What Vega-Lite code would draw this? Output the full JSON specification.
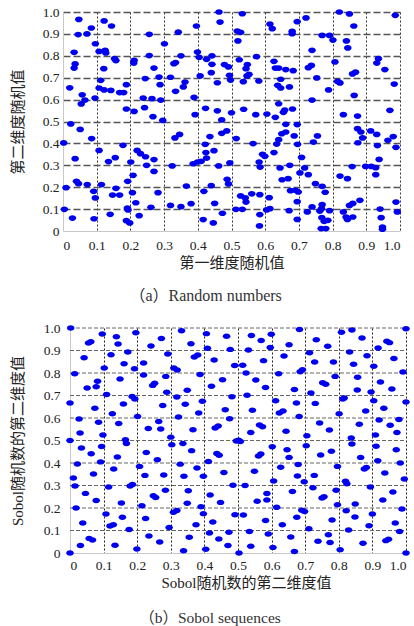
{
  "$schema": "https://vega.github.io/schema/vega-lite/v6.json",
  "padding": {"left": 10, "top": 5, "right": 0, "bottom": 0},
  "background": "white",
  "spacing": 17,
  "config": {
    "view": {"stroke": null},
    "axis": {
      "labelFont": "Liberation Serif",
      "labelFontSize": 13.5,
      "labelColor": "#222",
      "titleFont": "Liberation Serif, Noto Sans CJK SC",
      "titleFontSize": 15,
      "titleFontWeight": "normal",
      "titleColor": "#222",
      "ticks": false,
      "domainColor": "#c8c8c8",
      "domainWidth": 1,
      "labelExpr": "datum.value == 0 ? '0' : format(datum.value, '.1f')"
    },
    "title": {"font": "Liberation Serif, Noto Sans CJK SC", "fontSize": 16, "fontWeight": "normal", "color": "#333", "orient": "bottom", "frame": "bounds", "anchor": "middle"}
  },
  "datasets": {
    "gridvals": [{"v":0.1},{"v":0.2},{"v":0.3},{"v":0.4},{"v":0.5},{"v":0.6},{"v":0.7},{"v":0.8},{"v":0.9},{"v":1.0}],
    "a": [
{"x":0.047,"y":0.966},{"x":0.045,"y":0.897},{"x":0.071,"y":0.900},{"x":0.084,"y":0.927},{"x":0.122,"y":0.959},{"x":0.144,"y":0.936},{"x":0.256,"y":0.898},{"x":0.342,"y":0.908},{"x":0.396,"y":0.936},{"x":0.463,"y":1.0},{"x":0.466,"y":0.954},{"x":0.532,"y":0.992},{"x":0.517,"y":0.913},{"x":0.527,"y":0.907},{"x":0.614,"y":0.945},{"x":0.621,"y":0.924},{"x":0.680,"y":0.912},{"x":0.680,"y":0.901},{"x":0.695,"y":0.956},{"x":0.721,"y":0.973},{"x":0.820,"y":1.0},{"x":0.850,"y":0.991},{"x":0.863,"y":0.936},{"x":0.986,"y":0.985},{"x":0.769,"y":0.893},{"x":0.791,"y":0.893},{"x":0.519,"y":0.868},{"x":0.801,"y":0.872},
{"x":0.096,"y":0.855},{"x":0.033,"y":0.816},{"x":0.036,"y":0.763},{"x":0.033,"y":0.744},{"x":0.107,"y":0.820},{"x":0.125,"y":0.825},{"x":0.127,"y":0.813},{"x":0.153,"y":0.787},{"x":0.157,"y":0.778},{"x":0.121,"y":0.741},{"x":0.211,"y":0.779},{"x":0.210,"y":0.767},{"x":0.256,"y":0.801},{"x":0.301,"y":0.855},{"x":0.350,"y":0.800},{"x":0.329,"y":0.764},{"x":0.334,"y":0.769},{"x":0.399,"y":0.817},{"x":0.404,"y":0.793},{"x":0.426,"y":0.784},{"x":0.442,"y":0.800},{"x":0.442,"y":0.761},{"x":0.479,"y":0.760},{"x":0.491,"y":0.749},{"x":0.523,"y":0.782},{"x":0.547,"y":0.760},{"x":0.543,"y":0.741},{"x":0.574,"y":0.796},{"x":0.626,"y":0.775},{"x":0.630,"y":0.744},{"x":0.640,"y":0.744},{"x":0.661,"y":0.737},{"x":0.683,"y":0.732},{"x":0.739,"y":0.825},{"x":0.728,"y":0.746},{"x":0.737,"y":0.756},{"x":0.841,"y":0.868},{"x":0.845,"y":0.836},{"x":0.807,"y":0.772},{"x":0.936,"y":0.787},{"x":0.931,"y":0.767},{"x":0.955,"y":0.737},
{"x":0.020,"y":0.654},{"x":0.057,"y":0.622},{"x":0.054,"y":0.580},{"x":0.065,"y":0.598},{"x":0.095,"y":0.607},{"x":0.112,"y":0.688},{"x":0.107,"y":0.653},{"x":0.122,"y":0.644},{"x":0.142,"y":0.642},{"x":0.168,"y":0.632},{"x":0.180,"y":0.632},{"x":0.188,"y":0.668},{"x":0.244,"y":0.696},{"x":0.270,"y":0.744},{"x":0.285,"y":0.703},{"x":0.288,"y":0.668},{"x":0.238,"y":0.607},{"x":0.264,"y":0.604},{"x":0.290,"y":0.598},{"x":0.319,"y":0.702},{"x":0.334,"y":0.638},{"x":0.357,"y":0.658},{"x":0.362,"y":0.680},{"x":0.389,"y":0.610},{"x":0.407,"y":0.708},{"x":0.440,"y":0.723},{"x":0.458,"y":0.677},{"x":0.494,"y":0.711},{"x":0.497,"y":0.689},{"x":0.535,"y":0.682},{"x":0.546,"y":0.708},{"x":0.552,"y":0.715},{"x":0.581,"y":0.685},{"x":0.646,"y":0.693},{"x":0.637,"y":0.665},{"x":0.646,"y":0.653},{"x":0.672,"y":0.658},{"x":0.640,"y":0.581},{"x":0.753,"y":0.699},{"x":0.739,"y":0.598},{"x":0.788,"y":0.644},{"x":0.815,"y":0.683},{"x":0.822,"y":0.676},{"x":0.859,"y":0.717},{"x":0.868,"y":0.725},{"x":0.864,"y":0.619},{"x":0.983,"y":0.671},{"x":0.970,"y":0.551},
{"x":0.023,"y":0.489},{"x":0.188,"y":0.557},{"x":0.211,"y":0.546},{"x":0.242,"y":0.563},{"x":0.267,"y":0.522},{"x":0.296,"y":0.505},{"x":0.392,"y":0.531},{"x":0.423,"y":0.560},{"x":0.458,"y":0.549},{"x":0.471,"y":0.507},{"x":0.500,"y":0.540},{"x":0.536,"y":0.556},{"x":0.572,"y":0.531},{"x":0.605,"y":0.534},{"x":0.630,"y":0.519},{"x":0.658,"y":0.552},{"x":0.654,"y":0.542},{"x":0.681,"y":0.557},{"x":0.661,"y":0.487},{"x":0.695,"y":0.486},{"x":0.832,"y":0.531},{"x":0.874,"y":0.525},
{"x":0.002,"y":0.402},{"x":0.051,"y":0.464},{"x":0.085,"y":0.422},{"x":0.107,"y":0.368},{"x":0.178,"y":0.391},{"x":0.332,"y":0.425},{"x":0.346,"y":0.441},{"x":0.436,"y":0.431},{"x":0.422,"y":0.396},{"x":0.448,"y":0.367},{"x":0.471,"y":0.446},{"x":0.486,"y":0.457},{"x":0.514,"y":0.422},{"x":0.564,"y":0.399},{"x":0.649,"y":0.444},{"x":0.661,"y":0.452},{"x":0.640,"y":0.417},{"x":0.634,"y":0.397},{"x":0.686,"y":0.434},{"x":0.696,"y":0.396},{"x":0.743,"y":0.406},{"x":0.755,"y":0.434},{"x":0.874,"y":0.467},{"x":0.884,"y":0.452},{"x":0.875,"y":0.403},{"x":0.889,"y":0.425},{"x":0.913,"y":0.457},{"x":0.931,"y":0.441},{"x":0.933,"y":0.390},{"x":0.964,"y":0.414},{"x":0.980,"y":0.431},{"x":0.988,"y":0.382},
{"x":0.036,"y":0.330},{"x":0.135,"y":0.317},{"x":0.155,"y":0.335},{"x":0.201,"y":0.315},{"x":0.220,"y":0.368},{"x":0.230,"y":0.353},{"x":0.245,"y":0.339},{"x":0.248,"y":0.300},{"x":0.270,"y":0.326},{"x":0.270,"y":0.272},{"x":0.324,"y":0.297},{"x":0.386,"y":0.307},{"x":0.399,"y":0.315},{"x":0.410,"y":0.318},{"x":0.426,"y":0.333},{"x":0.424,"y":0.358},{"x":0.462,"y":0.297},{"x":0.495,"y":0.311},{"x":0.592,"y":0.350},{"x":0.582,"y":0.315},{"x":0.585,"y":0.292},{"x":0.599,"y":0.341},{"x":0.626,"y":0.358},{"x":0.644,"y":0.288},{"x":0.673,"y":0.300},{"x":0.708,"y":0.336},{"x":0.717,"y":0.288},{"x":0.703,"y":0.265},{"x":0.728,"y":0.257},{"x":0.822,"y":0.251},{"x":0.858,"y":0.294},{"x":0.898,"y":0.295},{"x":0.915,"y":0.295},{"x":0.928,"y":0.289},{"x":0.928,"y":0.257},{"x":0.938,"y":0.327},
{"x":0.040,"y":0.227},{"x":0.046,"y":0.216},{"x":0.072,"y":0.212},{"x":0.114,"y":0.212},{"x":0.009,"y":0.198},{"x":0.091,"y":0.181},{"x":0.096,"y":0.151},{"x":0.157,"y":0.195},{"x":0.147,"y":0.164},{"x":0.168,"y":0.164},{"x":0.192,"y":0.227},{"x":0.208,"y":0.254},{"x":0.206,"y":0.175},{"x":0.282,"y":0.175},{"x":0.366,"y":0.205},{"x":0.418,"y":0.181},{"x":0.440,"y":0.207},{"x":0.487,"y":0.236},{"x":0.491,"y":0.215},{"x":0.560,"y":0.170},{"x":0.584,"y":0.166},{"x":0.612,"y":0.152},{"x":0.650,"y":0.234},{"x":0.668,"y":0.239},{"x":0.675,"y":0.184},{"x":0.690,"y":0.186},{"x":0.698,"y":0.178},{"x":0.749,"y":0.216},{"x":0.769,"y":0.204},{"x":0.778,"y":0.177},{"x":0.844,"y":0.239},{"x":0.881,"y":0.140},
{"x":0.004,"y":0.099},{"x":0.028,"y":0.059},{"x":0.092,"y":0.056},{"x":0.140,"y":0.076},{"x":0.191,"y":0.105},{"x":0.193,"y":0.096},{"x":0.188,"y":0.047},{"x":0.198,"y":0.037},{"x":0.216,"y":0.129},{"x":0.226,"y":0.070},{"x":0.261,"y":0.108},{"x":0.319,"y":0.117},{"x":0.350,"y":0.111},{"x":0.380,"y":0.125},{"x":0.416,"y":0.052},{"x":0.446,"y":0.037},{"x":0.450,"y":0.126},{"x":0.473,"y":0.081},{"x":0.513,"y":0.099},{"x":0.532,"y":0.099},{"x":0.527,"y":0.160},{"x":0.541,"y":0.151},{"x":0.543,"y":0.132},{"x":0.584,"y":0.075},{"x":0.583,"y":0.023},{"x":0.604,"y":0.096},{"x":0.614,"y":0.102},{"x":0.671,"y":0.093},{"x":0.695,"y":0.134},{"x":0.695,"y":0.053},{"x":0.725,"y":0.087},{"x":0.739,"y":0.110},{"x":0.762,"y":0.091},{"x":0.769,"y":0.120},{"x":0.767,"y":0.102},{"x":0.768,"y":0.061},{"x":0.775,"y":0.044},{"x":0.766,"y":0.011},{"x":0.780,"y":0.011},{"x":0.786,"y":0.049},{"x":0.791,"y":0.093},{"x":0.832,"y":0.087},{"x":0.840,"y":0.064},{"x":0.844,"y":0.053},{"x":0.850,"y":0.117},{"x":0.860,"y":0.126},{"x":0.860,"y":0.064},{"x":0.941,"y":0.100},{"x":0.944,"y":0.061},{"x":0.948,"y":0.018},{"x":0.948,"y":0.008},{"x":0.988,"y":0.132},{"x":0.992,"y":0.087}
    ],
    "b": [
{"x":0.002,"y":1.0},{"x":0.014,"y":0.797},{"x":0.0,"y":0.667},{"x":0.027,"y":0.596},{"x":0.030,"y":0.533},{"x":0.0,"y":0.5},{"x":0.034,"y":0.467},{"x":0.022,"y":0.396},{"x":0.010,"y":0.333},{"x":0.015,"y":0.298},{"x":0.018,"y":0.2},{"x":0.038,"y":0.133},{"x":0.031,"y":0.033},{"x":0.0,"y":0.0},{"x":0.042,"y":0.868},{"x":0.051,"y":0.733},{"x":0.055,"y":0.933},{"x":0.062,"y":0.939},{"x":0.046,"y":0.265},{"x":0.063,"y":0.441},{"x":0.070,"y":0.351},{"x":0.074,"y":0.643},{"x":0.078,"y":0.233},{"x":0.078,"y":0.739},{"x":0.082,"y":0.763},{"x":0.085,"y":0.581},{"x":0.091,"y":0.405},{"x":0.094,"y":0.473},{"x":0.098,"y":0.524},{"x":0.057,"y":0.065},{"x":0.067,"y":0.058},{"x":0.102,"y":0.822},
{"x":0.096,"y":0.973},{"x":0.109,"y":0.704},{"x":0.107,"y":0.173},{"x":0.115,"y":0.293},{"x":0.122,"y":0.881},{"x":0.126,"y":0.619},{"x":0.130,"y":0.373},{"x":0.119,"y":0.120},{"x":0.129,"y":0.126},{"x":0.134,"y":0.034},{"x":0.138,"y":0.961},{"x":0.143,"y":0.929},{"x":0.141,"y":0.427},{"x":0.145,"y":0.576},{"x":0.149,"y":0.773},{"x":0.153,"y":0.222},{"x":0.156,"y":0.159},{"x":0.159,"y":0.662},{"x":0.161,"y":0.841},{"x":0.165,"y":0.503},{"x":0.168,"y":0.487},{"x":0.172,"y":0.893},{"x":0.176,"y":0.104},{"x":0.179,"y":0.298},{"x":0.186,"y":0.304},{"x":0.185,"y":0.696},{"x":0.192,"y":0.819},{"x":0.193,"y":0.684},{"x":0.196,"y":0.979},{"x":0.201,"y":0.607},{"x":0.199,"y":0.018},{"x":0.207,"y":0.385},
{"x":0.214,"y":0.210},{"x":0.219,"y":0.844},{"x":0.219,"y":0.791},{"x":0.223,"y":0.345},{"x":0.225,"y":0.153},{"x":0.227,"y":0.447},{"x":0.233,"y":0.553},{"x":0.241,"y":0.920},{"x":0.235,"y":0.076},{"x":0.246,"y":0.745},{"x":0.252,"y":0.754},{"x":0.248,"y":0.255},{"x":0.255,"y":0.247},{"x":0.260,"y":0.415},{"x":0.264,"y":0.584},{"x":0.267,"y":0.049},{"x":0.270,"y":0.551},{"x":0.272,"y":0.953},{"x":0.276,"y":0.656},{"x":0.279,"y":0.347},{"x":0.284,"y":0.279},{"x":0.285,"y":0.785},{"x":0.288,"y":0.714},{"x":0.291,"y":0.884},{"x":0.295,"y":0.113},{"x":0.300,"y":0.515},{"x":0.303,"y":0.481},
{"x":0.309,"y":0.822},{"x":0.319,"y":0.813},{"x":0.308,"y":0.181},{"x":0.318,"y":0.189},{"x":0.318,"y":0.693},{"x":0.323,"y":0.604},{"x":0.328,"y":0.395},{"x":0.332,"y":0.988},{"x":0.336,"y":0.487},{"x":0.338,"y":0.010},{"x":0.339,"y":0.341},{"x":0.343,"y":0.661},{"x":0.349,"y":0.723},{"x":0.349,"y":0.221},{"x":0.352,"y":0.277},{"x":0.355,"y":0.070},{"x":0.360,"y":0.930},{"x":0.362,"y":0.455},{"x":0.366,"y":0.548},{"x":0.370,"y":0.871},{"x":0.380,"y":0.880},{"x":0.375,"y":0.126},{"x":0.378,"y":0.378},{"x":0.383,"y":0.622},{"x":0.387,"y":0.793},{"x":0.390,"y":0.206},{"x":0.394,"y":0.674},{"x":0.397,"y":0.341},{"x":0.397,"y":0.175},{"x":0.404,"y":0.017},{"x":0.406,"y":0.975},
{"x":0.409,"y":0.910},{"x":0.412,"y":0.407},{"x":0.415,"y":0.089},{"x":0.417,"y":0.258},{"x":0.421,"y":0.741},{"x":0.425,"y":0.138},{"x":0.429,"y":0.858},{"x":0.432,"y":0.556},{"x":0.441,"y":0.564},{"x":0.437,"y":0.442},{"x":0.444,"y":0.434},{"x":0.443,"y":0.062},{"x":0.448,"y":0.225},{"x":0.454,"y":0.770},{"x":0.458,"y":0.358},{"x":0.462,"y":0.637},{"x":0.466,"y":0.963},{"x":0.470,"y":0.033},{"x":0.473,"y":0.092},{"x":0.475,"y":0.597},{"x":0.477,"y":0.905},{"x":0.482,"y":0.694},{"x":0.485,"y":0.301},{"x":0.490,"y":0.833},{"x":0.495,"y":0.498},{"x":0.502,"y":0.501},{"x":0.507,"y":0.496},{"x":0.491,"y":0.170},{"x":0.503,"y":0.0},
{"x":0.514,"y":0.834},{"x":0.516,"y":0.169},{"x":0.521,"y":0.300},{"x":0.524,"y":0.800},{"x":0.527,"y":0.701},{"x":0.531,"y":0.902},{"x":0.534,"y":0.096},{"x":0.538,"y":0.030},{"x":0.540,"y":0.967},{"x":0.543,"y":0.634},{"x":0.538,"y":0.536},{"x":0.549,"y":0.363},{"x":0.553,"y":0.769},{"x":0.557,"y":0.230},{"x":0.561,"y":0.431},{"x":0.568,"y":0.440},{"x":0.564,"y":0.569},{"x":0.573,"y":0.561},{"x":0.569,"y":0.944},{"x":0.576,"y":0.855},{"x":0.582,"y":0.736},{"x":0.582,"y":0.144},{"x":0.586,"y":0.264},{"x":0.586,"y":0.236},{"x":0.590,"y":0.084},{"x":0.596,"y":0.913},{"x":0.599,"y":0.972},{"x":0.602,"y":0.472},{"x":0.604,"y":0.025},{"x":0.606,"y":0.320},
{"x":0.612,"y":0.677},{"x":0.615,"y":0.203},{"x":0.621,"y":0.797},{"x":0.623,"y":0.622},{"x":0.634,"y":0.631},{"x":0.627,"y":0.381},{"x":0.632,"y":0.126},{"x":0.637,"y":0.876},{"x":0.643,"y":0.541},{"x":0.646,"y":0.459},{"x":0.652,"y":0.425},{"x":0.652,"y":0.926},{"x":0.657,"y":0.071},{"x":0.662,"y":0.273},{"x":0.668,"y":0.727},{"x":0.674,"y":0.667},{"x":0.675,"y":0.159},{"x":0.677,"y":0.342},{"x":0.683,"y":0.993},{"x":0.668,"y":0.007},{"x":0.679,"y":0.393},{"x":0.682,"y":0.607},{"x":0.685,"y":0.806},{"x":0.692,"y":0.815},{"x":0.690,"y":0.190},{"x":0.698,"y":0.184},{"x":0.697,"y":0.317},
{"x":0.705,"y":0.521},{"x":0.703,"y":0.477},{"x":0.713,"y":0.890},{"x":0.711,"y":0.108},{"x":0.717,"y":0.711},{"x":0.723,"y":0.290},{"x":0.727,"y":0.345},{"x":0.730,"y":0.665},{"x":0.728,"y":0.849},{"x":0.733,"y":0.948},{"x":0.738,"y":0.052},{"x":0.743,"y":0.578},{"x":0.746,"y":0.436},{"x":0.750,"y":0.244},{"x":0.756,"y":0.250},{"x":0.752,"y":0.757},{"x":0.761,"y":0.750},{"x":0.767,"y":0.919},{"x":0.769,"y":0.081},{"x":0.772,"y":0.547},{"x":0.774,"y":0.047},{"x":0.778,"y":0.452},{"x":0.780,"y":0.147},{"x":0.784,"y":0.849},{"x":0.789,"y":0.785},{"x":0.792,"y":0.279},{"x":0.796,"y":0.215},{"x":0.796,"y":0.385},{"x":0.801,"y":0.619},{"x":0.804,"y":0.015},
{"x":0.808,"y":0.981},{"x":0.812,"y":0.684},{"x":0.816,"y":0.689},{"x":0.820,"y":0.319},{"x":0.824,"y":0.308},{"x":0.822,"y":0.188},{"x":0.829,"y":0.102},{"x":0.832,"y":0.893},{"x":0.837,"y":0.511},{"x":0.839,"y":0.484},{"x":0.839,"y":0.991},{"x":0.844,"y":0.839},{"x":0.849,"y":0.218},{"x":0.848,"y":0.160},{"x":0.855,"y":0.724},{"x":0.856,"y":0.781},{"x":0.861,"y":0.572},{"x":0.865,"y":0.425},{"x":0.869,"y":0.956},{"x":0.872,"y":0.043},{"x":0.876,"y":0.373},{"x":0.882,"y":0.380},{"x":0.880,"y":0.631},{"x":0.884,"y":0.877},{"x":0.890,"y":0.121},{"x":0.894,"y":0.293},{"x":0.896,"y":0.716},{"x":0.900,"y":0.173},{"x":0.904,"y":0.677},
{"x":0.904,"y":0.830},{"x":0.909,"y":0.524},{"x":0.911,"y":0.474},{"x":0.917,"y":0.911},{"x":0.920,"y":0.591},{"x":0.924,"y":0.760},{"x":0.916,"y":0.410},{"x":0.931,"y":0.236},{"x":0.934,"y":0.643},{"x":0.937,"y":0.356},{"x":0.940,"y":0.055},{"x":0.948,"y":0.061},{"x":0.943,"y":0.941},{"x":0.951,"y":0.935},{"x":0.953,"y":0.568},{"x":0.958,"y":0.729},{"x":0.961,"y":0.271},{"x":0.964,"y":0.864},{"x":0.968,"y":0.133},{"x":0.971,"y":0.459},{"x":0.973,"y":0.536},{"x":0.979,"y":0.593},{"x":0.981,"y":0.096},{"x":0.983,"y":0.400},{"x":0.988,"y":0.196},{"x":0.991,"y":0.804},{"x":0.995,"y":0.329},{"x":1.0,"y":0.671},{"x":1.0,"y":0.997},{"x":1.0,"y":0.0}
    ]
  },
  "vconcat": [
    {
      "width": 337,
      "height": 219,
      "data": {"name": "a"},
      "title": {"text": "（a）Random numbers", "offset": 17},
      "mark": {"type": "point", "filled": true, "clip": false, "opacity": 1, "color": "#0000f0", "size": 58, "shape": "M -1 0 A 1 0.75 0 1 0 1 0 A 1 0.75 0 1 0 -1 0 Z"},
      "encoding": {
        "x": {"field": "x", "type": "quantitative", "scale": {"domain": [0, 1], "nice": false, "zero": false},
          "axis": {"values": [0,0.1,0.2,0.3,0.4,0.5,0.6,0.7,0.8,0.9,1.0], "title": "第一维度随机值", "labelPadding": 7, "titlePadding": 4,
            "grid": true, "gridColor": "#333", "gridWidth": 1, "gridDash": [2, 2],
            "gridOpacity": {"condition": {"test": "datum.value == 0", "value": 0}, "value": 1}}},
        "y": {"field": "y", "type": "quantitative", "scale": {"domain": [0, 1], "nice": false, "zero": false},
          "axis": {"values": [0,0.1,0.2,0.3,0.4,0.5,0.6,0.7,0.8,0.9,1.0], "title": "第二维度随机值", "labelPadding": 4, "titlePadding": 17,
            "grid": true, "gridColor": "#555", "gridWidth": 1.5, "gridDash": [7, 3],
            "gridOpacity": {"condition": {"test": "datum.value == 0", "value": 0}, "value": 1}}}
      }
    },
    {
      "width": 343,
      "height": 225,
      "title": {"text": "（b）Sobol sequences", "offset": 20, "fontSize": 15.5},
      "layer": [
        {
          "data": {"name": "gridvals"},
          "mark": {"type": "rule", "color": "#666", "strokeWidth": 1, "strokeDash": [4, 2]},
          "encoding": {
            "x": {"datum": 0, "type": "quantitative", "scale": {"domain": [0, 1], "nice": false, "zero": false, "range": [7, 343]},
              "axis": {"values": [0,0.1,0.2,0.3,0.4,0.5,0.6,0.7,0.8,0.9,1.0], "title": "Sobol随机数的第二维度值", "labelPadding": 5, "titlePadding": 4, "titleX": 183,
                "grid": true, "gridWidth": 1,
                "gridColor": {"condition": {"test": "datum.value == 0", "value": "#c8c8c8"}, "value": "#222"},
                "gridDash": {"condition": {"test": "datum.value == 0", "value": []}, "value": [2, 2]}}},
            "x2": {"datum": 1},
            "y": {"field": "v", "type": "quantitative", "scale": {"domain": [0, 1], "nice": false, "zero": false},
              "axis": {"values": [0,0.1,0.2,0.3,0.4,0.5,0.6,0.7,0.8,0.9,1.0], "title": "Sobol随机数的第二维度值", "labelPadding": 3, "titlePadding": 18, "grid": false, "domain": false}}
          }
        },
        {
          "data": {"name": "b"},
          "mark": {"type": "point", "filled": true, "clip": false, "opacity": 1, "color": "#0000f0", "size": 58, "shape": "M -1 0 A 1 0.72 0 1 0 1 0 A 1 0.72 0 1 0 -1 0 Z"},
          "encoding": {
            "x": {"field": "x", "type": "quantitative", "scale": {"domain": [0, 1], "nice": false, "zero": false, "range": [7, 343]},
              "axis": {"values": [0,0.1,0.2,0.3,0.4,0.5,0.6,0.7,0.8,0.9,1.0], "title": "Sobol随机数的第二维度值", "labelPadding": 5, "titlePadding": 4, "titleX": 183,
                "grid": true, "gridWidth": 1,
                "gridColor": {"condition": {"test": "datum.value == 0", "value": "#c8c8c8"}, "value": "#222"},
                "gridDash": {"condition": {"test": "datum.value == 0", "value": []}, "value": [2, 2]}}},
            "y": {"field": "y", "type": "quantitative", "scale": {"domain": [0, 1], "nice": false, "zero": false},
              "axis": {"values": [0,0.1,0.2,0.3,0.4,0.5,0.6,0.7,0.8,0.9,1.0], "title": "Sobol随机数的第二维度值", "labelPadding": 3, "titlePadding": 18, "grid": false, "domain": false}}
          }
        }
      ]
    }
  ]
}
